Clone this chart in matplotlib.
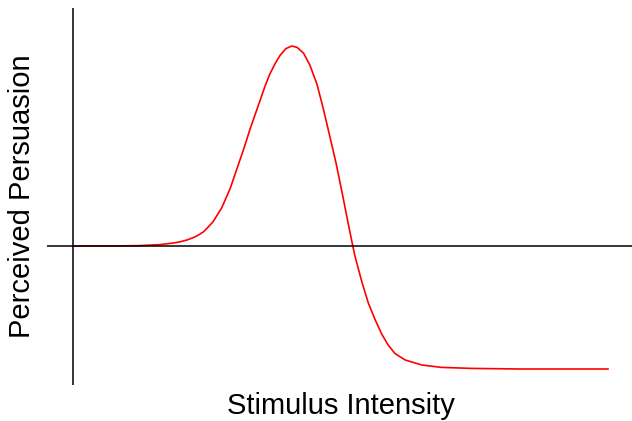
import matplotlib
matplotlib.use('Agg')
import matplotlib.pyplot as plt

# Curve (arbitrary units: intensity 0-10, persuasion peak = 1)
intensity = [0.0, 0.69, 1.25, 1.63, 1.88, 2.00, 2.13, 2.25, 2.34, 2.44, 2.52, 2.62,
             2.78, 2.94, 3.06, 3.20, 3.31, 3.50, 3.59, 3.68, 3.78, 3.87, 3.98, 4.09,
             4.19, 4.31, 4.43, 4.56, 4.67, 4.80, 4.92, 5.03, 5.14, 5.23, 5.27, 5.40,
             5.52, 5.65, 5.77, 5.89, 6.02, 6.21, 6.52, 6.89, 7.45, 8.36, 10.0]
persuasion = [0.0, 0.0, 0.002, 0.007, 0.015, 0.021, 0.03, 0.042, 0.054, 0.071, 0.093, 0.122,
              0.191, 0.289, 0.383, 0.492, 0.585, 0.73, 0.80, 0.86, 0.913, 0.953, 0.987, 1.0,
              0.993, 0.964, 0.903, 0.809, 0.696, 0.549, 0.411, 0.267, 0.118, 0.0, -0.05, -0.18,
              -0.285, -0.37, -0.44, -0.495, -0.538, -0.57, -0.595, -0.607, -0.612, -0.615, -0.615]

plt.rcParams['font.family'] = ['Liberation Sans', 'DejaVu Sans']

fig = plt.figure(figsize=(6.32, 4.21), dpi=100)
ax = fig.add_axes([47 / 632, 36 / 421, 585 / 632, 377 / 421])

ax.plot(intensity, persuasion, color='red', linewidth=1.2, solid_joinstyle='round')
ax.axhline(0, color='black', linewidth=1.1)
ax.axvline(0, color='black', linewidth=1.1)

ax.set_xlim(-0.486, 10.449)
ax.set_ylim(-0.695, 1.19)
ax.axis('off')

fig.text(341 / 632, 1 - 414 / 421, 'Stimulus Intensity', ha='center', va='baseline', fontsize=21)
fig.text(22 / 632, 1 - 196 / 421, 'Perceived Persuasion', ha='center', va='center',
         rotation=90, fontsize=21)

fig.savefig('out.png', dpi=100)
